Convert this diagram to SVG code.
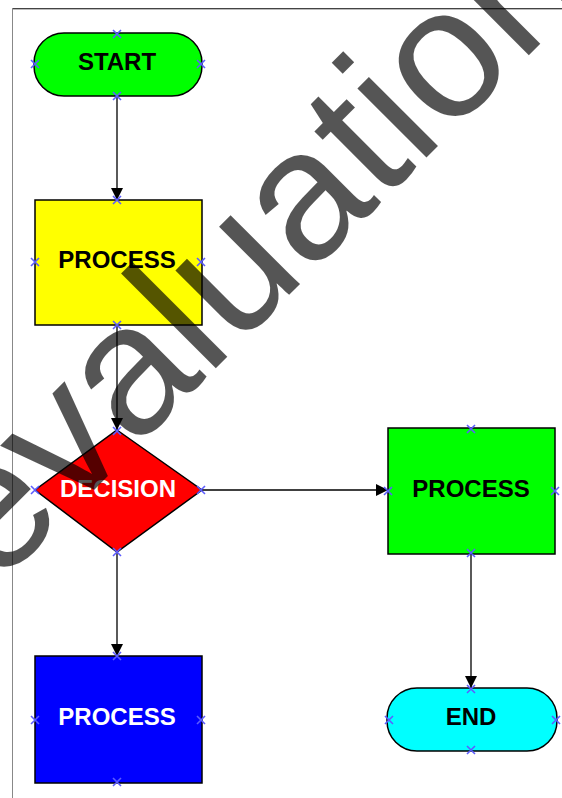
<svg xmlns="http://www.w3.org/2000/svg" width="562" height="798" viewBox="0 0 562 798">
<defs>
<style>
.node{stroke:#000;stroke-width:1.5}
.lbl{font-family:"Liberation Sans",Arial,sans-serif;font-weight:bold;font-size:24px;text-anchor:middle}
.dark{fill:#000}
.light{fill:#fff}
.conn{stroke:#000;stroke-width:1.3;fill:none}
.pt{stroke:#5c5cff;stroke-width:1.6;fill:none}
.wm{font-family:"Liberation Sans",Arial,sans-serif;font-size:185px;fill:#000;fill-opacity:0.667}
</style>
<marker id="arr" viewBox="0 0 12 12" refX="12" refY="6" markerWidth="12" markerHeight="12" markerUnits="userSpaceOnUse" orient="auto">
<path d="M0,0 L12,6 L0,12 Z" fill="#000"/>
</marker>
<path id="x" d="M-4,-4 L4,4 M-4,4 L4,-4"/>
</defs>
<rect width="562" height="798" fill="#fff"/>
<g id="frame">
<line x1="12" y1="8.5" x2="562" y2="8.5" stroke="#444" stroke-width="1"/>
<line x1="12" y1="9.5" x2="562" y2="9.5" stroke="#bbb" stroke-width="1"/>
<line x1="12.5" y1="8" x2="12.5" y2="798" stroke="#888" stroke-width="1"/>
</g>
<g id="connectors">
<line class="conn" x1="117" y1="96" x2="117" y2="200" marker-end="url(#arr)"/>
<line class="conn" x1="117" y1="325" x2="117" y2="430" marker-end="url(#arr)"/>
<line class="conn" x1="202" y1="490" x2="388" y2="490" marker-end="url(#arr)"/>
<line class="conn" x1="117" y1="552" x2="117" y2="656" marker-end="url(#arr)"/>
<line class="conn" x1="471" y1="554" x2="471" y2="688" marker-end="url(#arr)"/>
</g>
<g id="start">
<rect class="node" x="34" y="33" width="168" height="63" rx="30" ry="30" fill="#00ff00"/>
<text class="lbl dark" x="117" y="70">START</text>
<use href="#x" class="pt" x="117" y="34"/><use href="#x" class="pt" x="35" y="64"/><use href="#x" class="pt" x="201" y="64"/><use href="#x" class="pt" x="117" y="96"/>
</g>
<g id="process1">
<rect class="node" x="35" y="200" width="167" height="125" fill="#ffff00"/>
<text class="lbl dark" x="117" y="268">PROCESS</text>
<use href="#x" class="pt" x="117" y="200"/><use href="#x" class="pt" x="35" y="262"/><use href="#x" class="pt" x="201" y="262"/><use href="#x" class="pt" x="117" y="325"/>
</g>
<g id="decision">
<polygon class="node" points="117,430 202,490 117,552 35,490" fill="#ff0000"/>
<text class="lbl light" x="118" y="497">DECISION</text>
<use href="#x" class="pt" x="117" y="431"/><use href="#x" class="pt" x="35" y="490"/><use href="#x" class="pt" x="201" y="490"/><use href="#x" class="pt" x="117" y="552"/>
</g>
<g id="process2">
<rect class="node" x="388" y="428" width="167" height="126" fill="#00ff00"/>
<text class="lbl dark" x="471" y="497">PROCESS</text>
<use href="#x" class="pt" x="471" y="429"/><use href="#x" class="pt" x="388" y="491"/><use href="#x" class="pt" x="555" y="491"/><use href="#x" class="pt" x="471" y="553"/>
</g>
<g id="process3">
<rect class="node" x="35" y="656" width="167" height="127" fill="#0000ff"/>
<text class="lbl light" x="117" y="725">PROCESS</text>
<use href="#x" class="pt" x="117" y="656"/><use href="#x" class="pt" x="35" y="720"/><use href="#x" class="pt" x="201" y="720"/><use href="#x" class="pt" x="117" y="782"/>
</g>
<g id="end">
<rect class="node" x="387" y="688" width="170" height="63" rx="30" ry="30" fill="#00ffff"/>
<text class="lbl dark" x="471" y="725">END</text>
<use href="#x" class="pt" x="471" y="689"/><use href="#x" class="pt" x="389" y="720"/><use href="#x" class="pt" x="556" y="720"/><use href="#x" class="pt" x="471" y="750"/>
</g>
<g id="watermark">
<text class="wm" transform="translate(-4,588) rotate(-45)">evaluation</text>
</g>
</svg>
